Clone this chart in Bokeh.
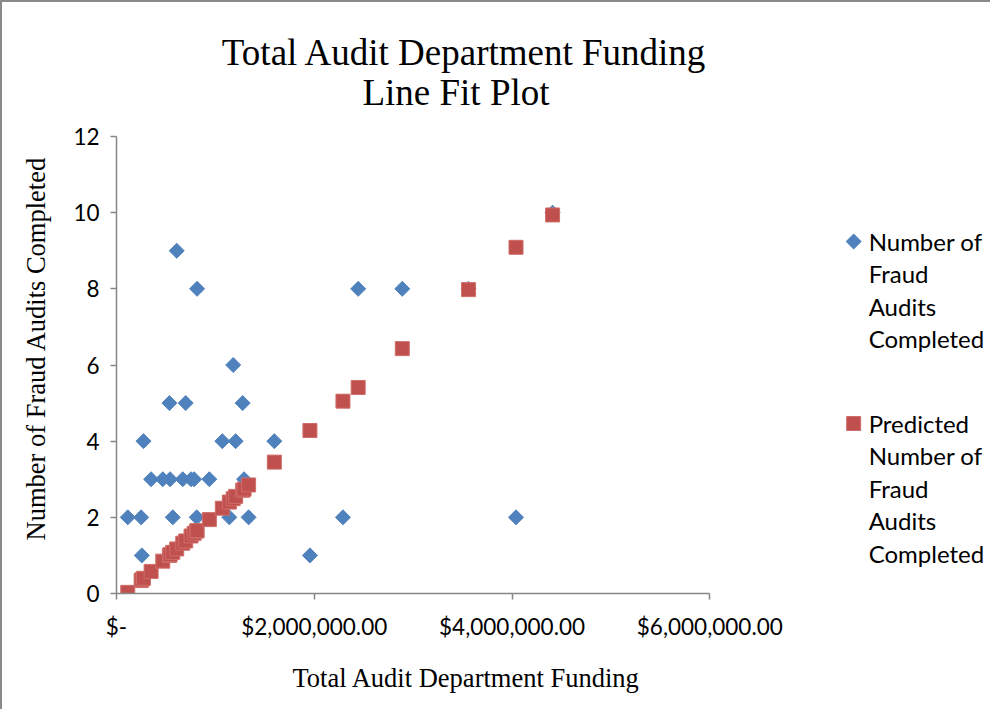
import numpy as np
from bokeh.plotting import figure
from bokeh.models import Range1d, FixedTicker, Title, ColumnDataSource
from bokeh.core.properties import value
from bokeh.embed import file_html
from bokeh.resources import INLINE

# ---- data ----
funding = [114000, 249000, 256000, 273000, 350000, 468000, 535000, 542000,
           569000, 609000, 670000, 700000, 754000, 785000, 811000, 815000,
           939000, 1070000, 1141000, 1180000, 1205000, 1276000, 1290000,
           1336000, 1596000, 1956000, 2290000, 2444000, 2890000, 3560000,
           4040000, 4410000]
audits = [2, 2, 1, 4, 3, 3, 5, 3, 2, 9, 3, 5, 3, 3, 2, 8, 3, 4, 2, 6, 4, 5,
          3, 2, 4, 1, 2, 8, 8, 8, 2, 10]
predicted = [0.03, 0.34, 0.36, 0.40, 0.58, 0.85, 1.00, 1.02, 1.08, 1.17,
             1.32, 1.38, 1.51, 1.58, 1.64, 1.65, 1.94, 2.24, 2.40, 2.49,
             2.55, 2.71, 2.74, 2.85, 3.45, 4.28, 5.05, 5.41, 6.43, 7.98,
             9.09, 9.94]

x_ticks = [0, 2000000, 4000000, 6000000]
x_tick_labels = ["$-", "$2,000,000.00", "$4,000,000.00", "$6,000,000.00"]
y_ticks = [0, 2, 4, 6, 8, 10, 12]

title_lines = ["Total Audit Department Funding", "Line Fit  Plot"]
x_label = "Total Audit Department Funding"
y_label = "Number of Fraud Audits Completed"
series_names = [["Number of", "Fraud", "Audits", "Completed"],
                ["Predicted", "Number of", "Fraud", "Audits", "Completed"]]

BLUE = "#4F81BD"
RED = "#C0504D"
AXIS = "#868686"
SERIF = "Liberation Serif"
SANS = "Lato"

# ---- layout (page pixel positions) ----
W, H = 990, 709                   # plus a 2px border left/top -> starts at page (10, 10)
CONTENT_X, CONTENT_Y = 10, 10
ORIGIN_X, ORIGIN_Y = 123, 601     # page px of (0, 0)
FR_PX = 594                       # page px for 0..6M
FH = 457                          # page px for 0..12
FL = ORIGIN_X - CONTENT_X         # frame left inside the figure
frame_w = W - FL
frame_h = ORIGIN_Y - CONTENT_Y    # frame spans from the top of the figure
x_max = 6000000 * frame_w / FR_PX
y_max = 12 * frame_h / FH

px = 6000000 / FR_PX   # data units per pixel (x)
py = 12 / FH           # data units per pixel (y)


def dx(page_x):
    return (page_x - ORIGIN_X) * px


def dy(page_y):
    return (ORIGIN_Y - page_y) * py


p = figure(width=W, height=H, output_backend="svg", toolbar_location=None,
           x_range=Range1d(0, x_max), y_range=Range1d(0, y_max),
           min_border_left=FL, min_border_right=0, min_border_top=0,
           min_border_bottom=H - frame_h, title=None)
p.styles = {"border-left": "2px solid #8a8a8a", "border-top": "2px solid #8a8a8a"}
p.outline_line_color = None
p.xgrid.grid_line_color = None
p.ygrid.grid_line_color = None
p.background_fill_color = "white"
p.border_fill_color = "white"

for ax in (p.xaxis[0], p.yaxis[0]):
    ax.axis_line_color = AXIS
    ax.axis_line_width = 1.5
    ax.major_tick_line_color = AXIS
    ax.major_tick_line_width = 1.5
    ax.minor_tick_line_color = None
    ax.major_tick_in = 0
    ax.major_tick_out = 6
    ax.major_label_text_font = SANS
    ax.major_label_text_font_size = "22.5px"
    ax.major_label_text_color = "black"

p.xaxis[0].ticker = FixedTicker(ticks=x_ticks)
p.xaxis[0].bounds = (0, 6000000)
p.xaxis[0].major_label_overrides = {t: l for t, l in zip(x_ticks, x_tick_labels)}
p.xaxis[0].major_label_standoff = 13
p.yaxis[0].ticker = FixedTicker(ticks=y_ticks)
p.yaxis[0].bounds = (0, 12)
p.yaxis[0].major_label_standoff = 11

# axis titles
p.add_layout(Title(text=x_label, text_font=SERIF, text_font_size="26.5px",
                   text_font_style="normal", text_color="black", align="left",
                   offset=176, standoff=36), "below")
p.add_layout(Title(text=y_label, text_font=SERIF, text_font_size="26.5px",
                   text_font_style="normal", text_color="black", align="left",
                   vertical_align="top", offset=53, standoff=36), "left")

# chart title (inside the upper part of the frame, above the 0..12 axis)
p.text([dx(471.5), dx(467.5)], [dy(60.2), dy(99.8)], text=title_lines,
       text_font=value(SERIF), text_font_size="37px", text_color="black",
       text_align="center", text_baseline="alphabetic")

src = ColumnDataSource(dict(x=funding, y=audits, yp=predicted))
p.scatter("x", "y", source=src, marker="square", angle=np.pi / 4, size=10.6,
          fill_color=BLUE, line_color=BLUE)
p.scatter("x", "yp", source=src, marker="square", size=14,
          fill_color=RED, line_color="#cf6d6a", line_width=1)

# legend, to the right of the axis area
p.scatter([dx(861)], [dy(249)], marker="square", angle=np.pi / 4,
          size=10.6, fill_color=BLUE, line_color=BLUE)
p.scatter([dx(861)], [dy(431)], marker="square", size=14,
          fill_color=RED, line_color="#cf6d6a")
tx, ty, tt = [], [], []
for i, lines in enumerate(series_names):
    b = 248.7 if i == 0 else 430.7
    for j, s in enumerate(lines):
        tx.append(dx(876))
        ty.append(dy(b + j * 32.5))
        tt.append(s)
p.text(tx, ty, text=tt, text_font=value(SANS), text_font_size="24px",
       text_baseline="alphabetic", text_align="left", text_color="black")

open("out.html", "w").write(file_html(p, INLINE))
